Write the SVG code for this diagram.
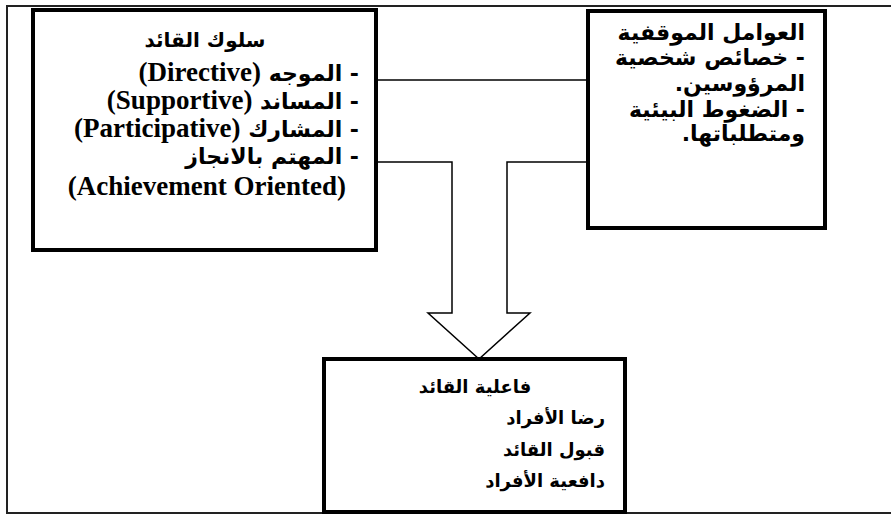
<svg xmlns="http://www.w3.org/2000/svg" width="891" height="516" viewBox="0 0 891 516">
<style>
.frame{fill:none;stroke:#222;stroke-width:2}
.box{fill:#fff;stroke:#000;stroke-width:4}
.conn{fill:none;stroke:#000;stroke-width:1.5}
text{font-weight:bold;fill:#000;direction:rtl;unicode-bidi:embed}
.ar{font-family:"DejaVu Sans",sans-serif;font-size:22px}
.arb{font-family:"DejaVu Sans",sans-serif;font-size:18px}
.en{font-family:"Liberation Serif",serif;font-size:27px;font-weight:bold}
</style>
<rect width="891" height="516" fill="#fff"/>
<rect class="frame" x="7" y="6" width="900" height="507"/>
<g id="connectors">
<line class="conn" x1="376" y1="80" x2="588" y2="80"/>
<polyline class="conn" points="376,162 452,162 452,313 428,313 479,359 530,313 507,313 507,162 588,162"/>
</g>
<g id="leader-behavior">
<rect class="box" x="33" y="10" width="343" height="240"/>
<text class="ar" x="205" y="47" text-anchor="middle" style="font-size:20px">سلوك القائد</text>
<text class="ar" x="359" y="81" text-anchor="start">- الموجه <tspan class="en" font-family="Liberation Serif, serif">(Directive)</tspan></text>
<text class="ar" x="359" y="109" text-anchor="start">- المساند <tspan class="en" font-family="Liberation Serif, serif">(Supportive)</tspan></text>
<text class="ar" x="359" y="137" text-anchor="start">- المشارك <tspan class="en" font-family="Liberation Serif, serif">(Participative)</tspan></text>
<text class="ar" x="359" y="164" text-anchor="start">- المهتم بالانجاز</text>
<text class="en" x="346" y="195" text-anchor="start" font-family="Liberation Serif, serif">(Achievement Oriented)</text>
</g>
<g id="situational-factors">
<rect class="box" x="588" y="11" width="237" height="217"/>
<text class="ar" x="805" y="40" text-anchor="start">العوامل  الموقفية</text>
<text class="ar" x="805" y="65" text-anchor="start">- خصائص شخصية</text>
<text class="ar" x="805" y="91" text-anchor="start">المرؤوسين.</text>
<text class="ar" x="805" y="117" text-anchor="start">- الضغوط البيئية</text>
<text class="ar" x="805" y="141" text-anchor="start">ومتطلباتها.</text>
</g>
<g id="leader-effectiveness">
<rect class="box" x="324" y="359" width="301" height="153"/>
<text class="arb" x="475" y="393" text-anchor="middle">فاعلية القائد</text>
<text class="arb" x="605" y="424" text-anchor="start">رضا الأفراد</text>
<text class="arb" x="605" y="456" text-anchor="start">قبول القائد</text>
<text class="arb" x="605" y="487" text-anchor="start">دافعية الأفراد</text>
</g>
</svg>
